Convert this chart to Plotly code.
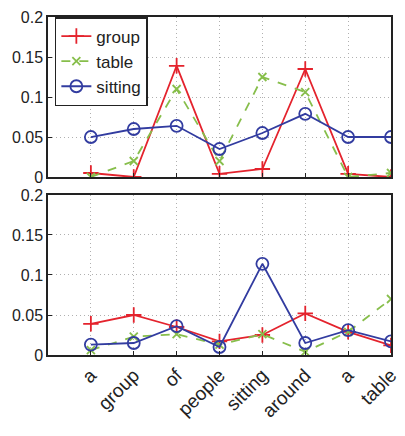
import plotly.graph_objects as go
from plotly.subplots import make_subplots

words = ["a", "group", "of", "people", "sitting", "around", "a", "table"]
positions = [1, 2, 3, 4, 5, 6, 7, 8]

top_group = [0.005, 0.0, 0.139, 0.004, 0.010, 0.135, 0.004, 0.0]
top_table = [0.0, 0.020, 0.110, 0.020, 0.125, 0.106, 0.0, 0.005]
top_sitting = [0.050, 0.060, 0.064, 0.035, 0.055, 0.079, 0.050, 0.050]

bot_group = [0.039, 0.050, 0.035, 0.017, 0.025, 0.052, 0.029, 0.012]
bot_table = [0.006, 0.023, 0.026, 0.013, 0.026, 0.004, 0.029, 0.070]
bot_sitting = [0.013, 0.015, 0.036, 0.010, 0.114, 0.015, 0.031, 0.017]

y_ticks = [0, 0.05, 0.1, 0.15, 0.2]
y_ticklabels = ["0", "0.05", "0.1", "0.15", "0.2"]

RED = "rgb(228,35,45)"
GREEN = "rgb(135,190,75)"
BLUE = "rgb(50,60,160)"
FONT = "Liberation Sans, Arial"

fig = make_subplots(rows=2, cols=1, shared_xaxes=False)

def add_series(row, g, t, s, show):
    fig.add_trace(go.Scatter(x=positions, y=g, name="group", mode="lines+markers",
                             line=dict(color=RED, width=1.8),
                             marker=dict(symbol="cross-thin", size=11, line=dict(color=RED, width=1.8)),
                             showlegend=show), row=row, col=1)
    fig.add_trace(go.Scatter(x=positions, y=t, name="table", mode="lines+markers",
                             line=dict(color=GREEN, width=1.8, dash="dash"),
                             marker=dict(symbol="x-thin", size=8, line=dict(color=GREEN, width=1.8)),
                             showlegend=show), row=row, col=1)
    fig.add_trace(go.Scatter(x=positions, y=s, name="sitting", mode="lines+markers",
                             line=dict(color=BLUE, width=1.8),
                             marker=dict(symbol="circle-open", size=12, line=dict(color=BLUE, width=1.8)),
                             showlegend=show), row=row, col=1)

add_series(1, top_group, top_table, top_sitting, True)
add_series(2, bot_group, bot_table, bot_sitting, False)

axis_common = dict(showline=True, linecolor="#222", linewidth=1.5, mirror=True,
                   showgrid=True, gridcolor="#b0b0b0", griddash="1px,3px", gridwidth=1,
                   zeroline=False, ticks="inside", ticklen=4, tickcolor="#222",
                   automargin=False, ticklabeloverflow="allow",
                   tickfont=dict(family=FONT, size=16, color="#222"))

fig.update_xaxes(range=[0, 8], tickvals=positions, **axis_common)
fig.update_xaxes(showticklabels=False, row=1, col=1)
fig.update_xaxes(ticktext=words, tickangle=-45, tickfont=dict(size=19), row=2, col=1)
fig.update_yaxes(range=[0, 0.2], tickvals=y_ticks, ticktext=y_ticklabels, **axis_common)

fig.update_layout(
    width=397, height=428,
    margin=dict(l=40, r=14, t=9, b=81),
    paper_bgcolor="white", plot_bgcolor="white",
    xaxis=dict(domain=[0, 1]),
    yaxis=dict(domain=[0.5266, 1]),
    xaxis2=dict(domain=[0, 1]),
    yaxis2=dict(domain=[0, 0.4734]),
    legend=dict(x=0.02, y=1.0, xanchor="left", yanchor="top",
                bgcolor="white", bordercolor="#222", borderwidth=1.5,
                font=dict(family=FONT, size=17, color="#222"),
                tracegroupgap=0, itemwidth=30),
)

fig.write_html("out.html")
